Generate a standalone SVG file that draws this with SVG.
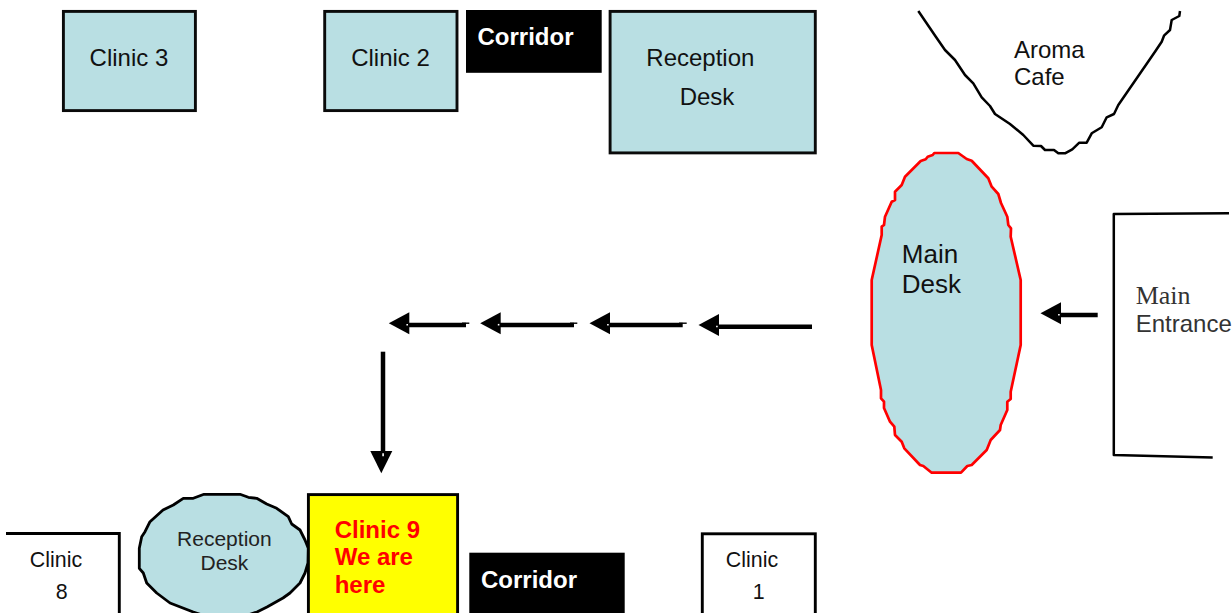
<svg xmlns="http://www.w3.org/2000/svg" width="1232" height="613" viewBox="0 0 1232 613">
  <style>
    text { font-family: "Liberation Sans", Arial, sans-serif; font-size: 24px; fill: #111; }
    .box { fill: #b9dfe3; stroke: #0a0a0a; stroke-width: 2.9; }
    .plain { fill: #fff; stroke: #000; stroke-width: 2.9; }
    .open { fill: none; stroke: #000; stroke-width: 2.5; stroke-linejoin: round; }
    .black { fill: #000; }
    text.corr { font-weight: bold; fill: #fff; }
    text.hot { font-weight: bold; fill: #f00; }
    text.small { font-size: 21.4px; }
    text.gray { fill: #333; }
    .shaft { stroke: #000; stroke-width: 4.5; fill: none; marker-end: url(#head); }
    .shaft.down { marker-end: url(#head-long); }
    .stub { stroke: #000; stroke-width: 1.4; fill: none; }
  </style>
  <defs>
    <marker id="head" markerUnits="userSpaceOnUse" markerWidth="22" markerHeight="24" refX="2.3" refY="9.3" orient="auto" overflow="visible">
      <path d="M0,0 L20.5,11 L0,22 Z" fill="#000"/>
      <rect x="1.3" y="8.8" width="1.6" height="1.6" fill="#fff"/>
    </marker>
    <marker id="head-long" markerUnits="userSpaceOnUse" markerWidth="24" markerHeight="24" refX="2.3" refY="9.3" orient="auto" overflow="visible">
      <path d="M0,0 L22.3,11 L0,22 Z" fill="#000"/>
      <rect x="2.3" y="8.4" width="3" height="1.6" fill="#fff"/>
    </marker>
  </defs>

  <g id="connectors">
    <line class="shaft" x1="466" y1="325" x2="407" y2="325"/>
    <line class="stub" x1="462" y1="323.2" x2="469.3" y2="323.2"/>
    <line class="shaft" x1="574" y1="325" x2="498.4" y2="325"/>
    <line class="stub" x1="570" y1="323.2" x2="577.3" y2="323.2"/>
    <line class="shaft" x1="682.7" y1="325" x2="607.7" y2="325"/>
    <line class="stub" x1="679" y1="323.2" x2="686.7" y2="323.2"/>
    <line class="shaft" x1="812" y1="326.8" x2="716.7" y2="326.8"/>
    <line class="shaft" x1="1097.7" y1="315" x2="1058.7" y2="315"/>
    <line class="shaft down" x1="383" y1="351.7" x2="383" y2="453.3"/>
  </g>

  <g id="clinic-3">
    <rect class="box" x="63.4" y="11.4" width="132" height="99.2"/>
    <text x="89.6" y="66">Clinic 3</text>
  </g>
  <g id="clinic-2">
    <rect class="box" x="324.7" y="11.4" width="132.3" height="99.2"/>
    <text x="351.2" y="66">Clinic 2</text>
  </g>
  <g id="corridor-top">
    <rect class="black" x="466" y="10" width="135.7" height="62.8"/>
    <text class="corr" x="477.5" y="44.7">Corridor</text>
  </g>
  <g id="reception-desk-top">
    <rect class="box" x="610.1" y="11.4" width="205.2" height="141.5"/>
    <text x="646.3" y="66">Reception</text>
    <text x="679.7" y="105">Desk</text>
  </g>
  <g id="aroma-cafe">
    <path class="open" d="M918.3,11 L936,37 L945,50 L955,60 L965,75 L973.3,83.3 L981.7,97.3 L990,106 L995,114 L1010,124 L1023.3,135 L1033.3,145.7 L1041,146 L1045,150 L1054,150 L1058.3,153.3 L1065,153.3 L1072.3,149.3 L1079.3,142.7 L1086.7,142.7 L1091.7,133.3 L1101.7,127.3 L1106.7,117.3 L1114,114 L1118.3,105 L1155,51.7 L1161.7,41.7 L1164,35.7 L1170,30 L1171.7,20 L1179.3,16 L1180,11"/>
    <text x="1014" y="58">Aroma</text>
    <text x="1014" y="85">Cafe</text>
  </g>
  <g id="main-desk">
    <path d="M934.3,153 L958.3,153 L966.7,159 L971.7,160.7 L988.3,178.3 L991.7,186.7 L998.3,194 L1001,203 L1007.3,216.7 L1008.3,225 L1011,228.3 L1010.7,236.7 L1020.7,280 L1020.7,345 L1010.7,391.7 L1010.7,399 L1007.3,401.7 L1007.3,410 L1000.7,425 L1000,430 L990.7,440 L986.7,450 L971.7,465 L967.3,466 L961,472.7 L931.7,472.7 L923.3,466 L920,465 L904.3,448.3 L901.7,441.7 L895,435 L894.3,426.7 L890,421.7 L884,408 L884,401.7 L881,398.3 L881,390 L871.7,345 L871.7,280 L881.7,235 L881.7,226.7 L884,225 L885,216.7 L891.7,201.7 L895,200 L895,191.7 L901.7,185 L905,176.7 L920.7,161 L925.7,159.3 L927.7,156.7 L932.7,155 Z" fill="#b9dfe3" stroke="#f00" stroke-width="2.7" stroke-linejoin="round"/>
    <text x="901.8" y="262.7" style="font-size:26px">Main</text>
    <text x="901.8" y="292.7" style="font-size:26px">Desk</text>
  </g>
  <g id="main-entrance">
    <path class="open" d="M1229,213.3 L1113.8,214 L1113.8,455 L1212.7,457.5"/>
    <text class="gray" x="1135.7" y="304" style="font-family:'Liberation Serif','Times New Roman',serif;font-size:26px">Main</text>
    <text class="gray" x="1135.7" y="331.7">Entrance</text>
  </g>
  <g id="clinic-8">
    <path class="plain" style="fill:none" d="M6,533.5 L119.3,533.5 L119.3,615"/>
    <text class="small" x="29.8" y="567">Clinic</text>
    <text class="small" x="55.8" y="599.3">8</text>
  </g>
  <g id="reception-desk-bottom">
    <path d="M204,494.3 L240,494.3 L248.3,497.3 L256.7,498.3 L266.7,504 L276.7,508.3 L288.3,516.7 L291.7,524 L300,530 L305,540 L308.3,548.3 L308,563 L305,573 L300,583 L290,593 L283,598 L267,607 L257,612 L245,616 L205,616 L193.3,612 L170,603 L156.7,593 L146.7,583 L143.3,573 L139.3,568.3 L139.3,548.3 L141.7,536.7 L145,531.7 L150,521.7 L163,510 L173.3,505 L183.3,498.3 L193.3,498.3 Z" fill="#b9dfe3" stroke="#000" stroke-width="2.8" stroke-linejoin="round"/>
    <text class="small" style="font-size:21px;fill:#222" x="177.1" y="546">Reception</text>
    <text class="small" style="font-size:21px;fill:#222" x="200.5" y="570">Desk</text>
  </g>
  <g id="clinic-9">
    <rect x="308.4" y="494.6" width="149.2" height="125" fill="#ff0" stroke="#000" stroke-width="2.9"/>
    <text class="hot" x="334.7" y="538.3">Clinic 9</text>
    <text class="hot" x="334.7" y="565">We are</text>
    <text class="hot" x="334.7" y="592.7">here</text>
  </g>
  <g id="corridor-bottom">
    <rect class="black" x="469.3" y="552.7" width="155.4" height="62"/>
    <text class="corr" x="481" y="588.3">Corridor</text>
  </g>
  <g id="clinic-1">
    <rect class="plain" x="702.3" y="533.8" width="113" height="85"/>
    <text class="small" x="725.8" y="566.7">Clinic</text>
    <text class="small" x="752.7" y="598.7">1</text>
  </g>
</svg>
